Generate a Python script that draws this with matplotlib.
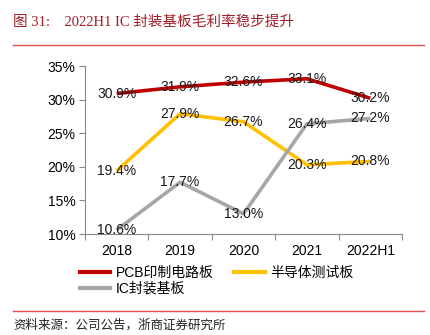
import matplotlib
matplotlib.use("Agg")
import matplotlib.pyplot as plt
from matplotlib.lines import Line2D
import numpy as np

categories = ["2018", "2019", "2020", "2021", "2022H1"]
pcb = [30.9, 31.9, 32.6, 33.1, 30.2]
semi_test = [19.4, 27.9, 26.7, 20.3, 20.8]
ic_substrate = [10.6, 17.7, 13.0, 26.4, 27.2]
series_names = ["PCB印制电路板", "半导体测试板", "IC封装基板"]
yticks = [10, 15, 20, 25, 30, 35]

colors = ["#C00000", "#FFC000", "#A6A6A6"]
sans = ["Liberation Sans", "Noto Sans CJK SC"]
serif = ["Liberation Serif", "Noto Sans CJK SC"]
plt.rcParams["font.family"] = sans

fig = plt.figure(figsize=(4.31, 3.35), dpi=100)
ax = fig.add_axes([85 / 431, 1 - 234 / 335, 317 / 431, 168 / 335])

x = np.arange(len(categories))
for vals, c in [(pcb, colors[0]), (semi_test, colors[1]), (ic_substrate, colors[2])]:
    ax.plot(x, vals, color=c, lw=2.6, solid_capstyle="butt", zorder=2)
    for xi, v in zip(x, vals):
        ax.text(xi, v, f"{v:.1f}%", ha="center", va="center",
                fontsize=10, color="#1a1a1a", zorder=3)

ax.set_xlim(-0.5, len(categories) - 0.5)
ax.set_ylim(10, 35)
ax.set_yticks(yticks)
ax.set_yticklabels([f"{t}%" for t in yticks], fontsize=10)
ax.set_xticks(x)
ax.set_xticklabels(categories, fontsize=10)
ax.set_xticks(np.arange(len(categories) + 1) - 0.5, minor=True)
ax.tick_params(axis="x", which="major", length=0, pad=7)
ax.tick_params(axis="x", which="minor", length=4, color="#888888", width=0.8)
ax.tick_params(axis="y", length=4, color="#888888", width=0.8, pad=3)
for s in ["top", "right"]:
    ax.spines[s].set_visible(False)
for s in ["left", "bottom"]:
    ax.spines[s].set_color("#888888")
    ax.spines[s].set_linewidth(0.8)

# Legend fills column-wise: order so row 1 holds PCB and 半导体测试板
handles = [Line2D([], [], color=c, lw=3) for c in colors]
order = [0, 2, 1]
fig.legend([handles[i] for i in order], [series_names[i] for i in order],
           loc="upper left", bbox_to_anchor=(74 / 431, 1 - 260 / 335),
           ncol=2, frameon=False, fontsize=10, handlelength=2.2, handletextpad=0.4,
           columnspacing=1.5, labelspacing=0.15, borderaxespad=0)

# Header and footer
fig.text(13 / 431, 1 - 22 / 335, "图 31:    2022H1 IC 封装基板毛利率稳步提升",
         fontsize=10.5, color="#A01E28", family=serif, va="center", ha="left")
fig.add_artist(Line2D([13 / 431, 424 / 431], [1 - 45 / 335] * 2, color="#E05050", lw=1))
fig.add_artist(Line2D([13 / 431, 424 / 431], [1 - 311 / 335] * 2, color="#E05050", lw=1))
fig.text(13 / 431, 1 - 325 / 335, "资料来源：公司公告，浙商证券研究所",
         fontsize=9, color="#222222", family=serif, va="center", ha="left")

fig.savefig("out.png", dpi=100)
